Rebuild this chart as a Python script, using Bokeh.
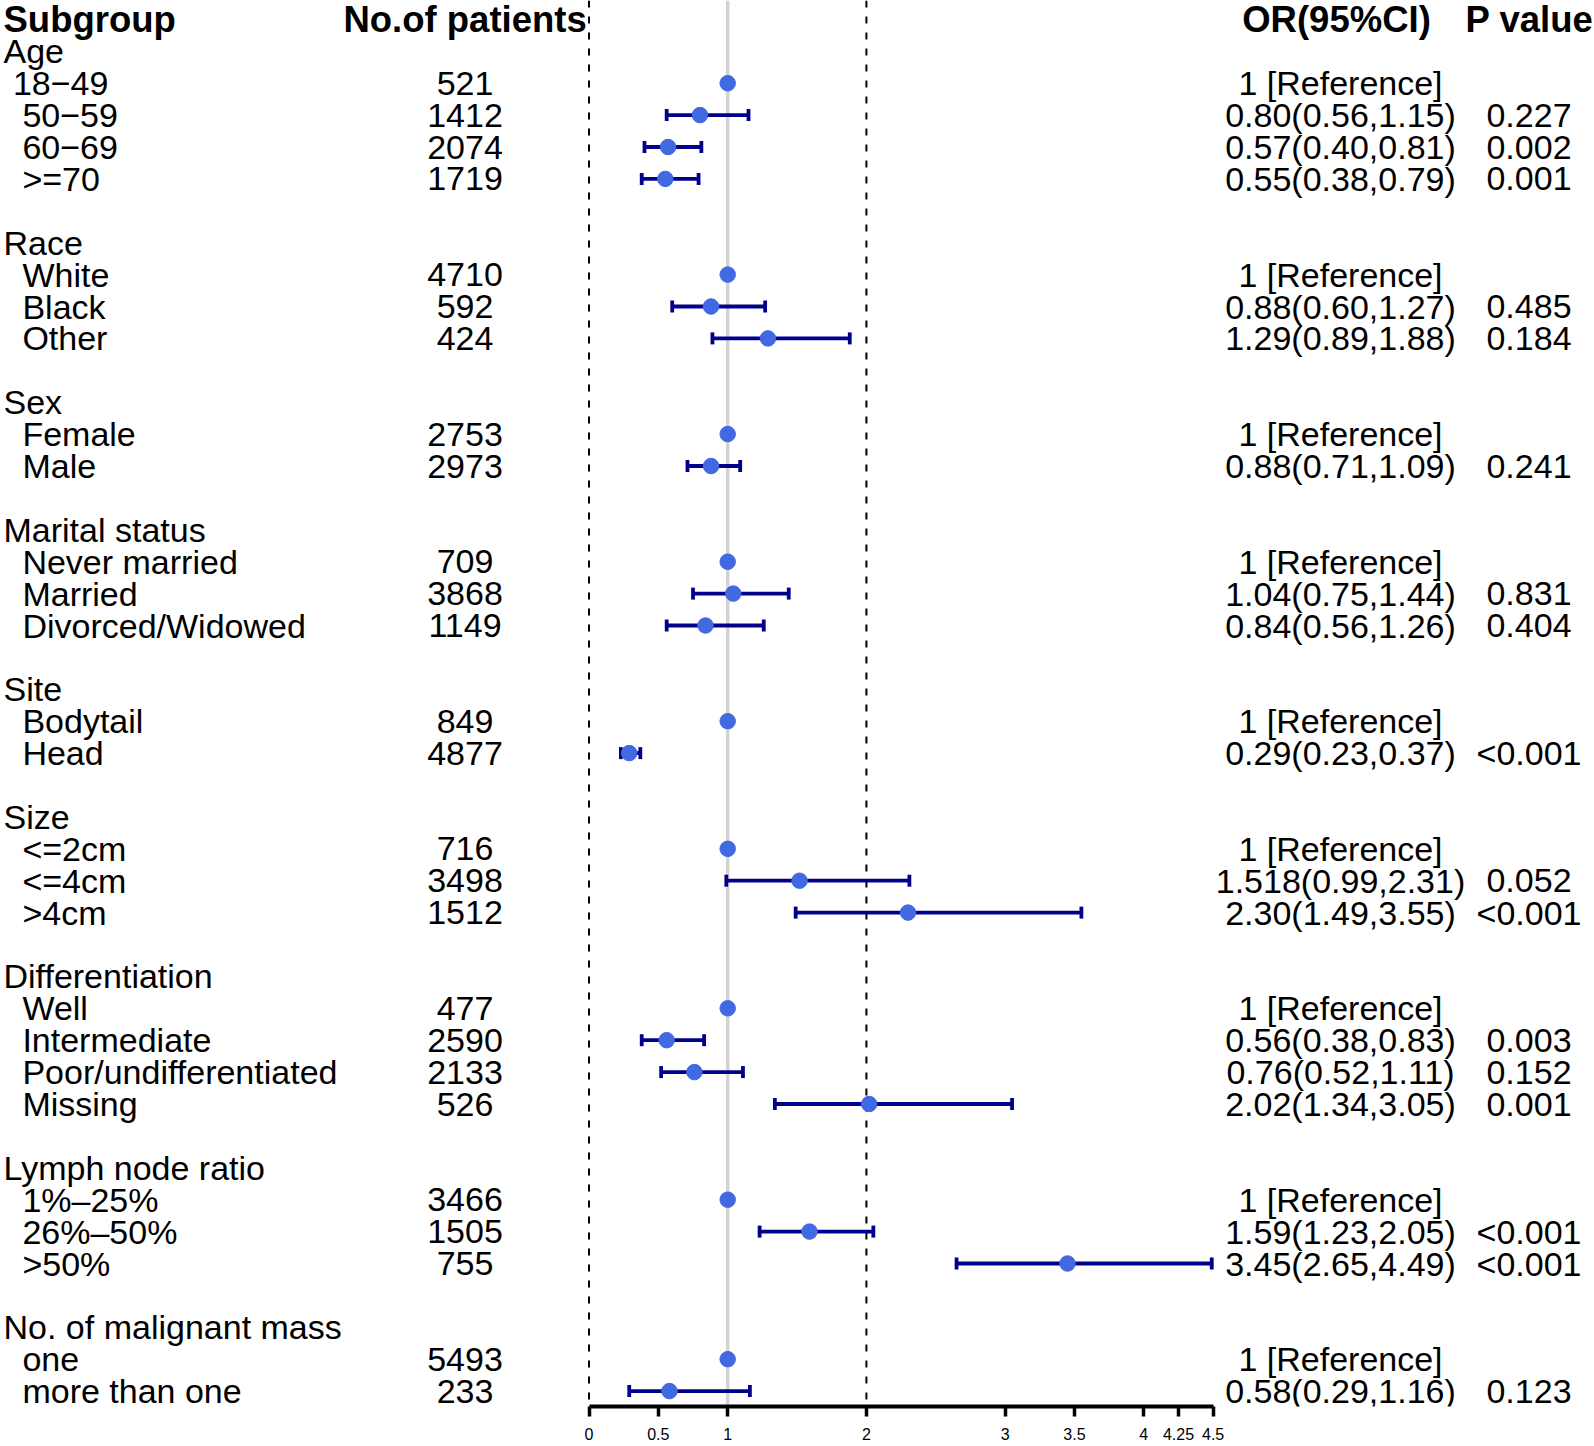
from bokeh.plotting import figure
from bokeh.models import (Range1d, LinearAxis, FixedTicker, NumeralTickFormatter,
                          Span, Whisker, TeeHead, ColumnDataSource)
from bokeh.core.properties import value
from bokeh.embed import file_html
from bokeh.resources import INLINE

# ---------------- data ----------------
groups = ["Age", "Race", "Sex", "Marital status", "Site", "Size",
          "Differentiation", "Lymph node ratio", "No. of malignant mass"]

# leading spaces = indentation used in the original table
items = [
    [" 18−49", "  50−59", "  60−69", "  >=70"],
    ["  White", "  Black", "  Other"],
    ["  Female", "  Male"],
    ["  Never married", "  Married", "  Divorced/Widowed"],
    ["  Bodytail", "  Head"],
    ["  <=2cm", "  <=4cm", "  >4cm"],
    ["  Well", "  Intermediate", "  Poor/undifferentiated", "  Missing"],
    ["  1%–25%", "  26%–50%", "  >50%"],
    ["  one", "  more than one"],
]

n_patients = [
    [521, 1412, 2074, 1719],
    [4710, 592, 424],
    [2753, 2973],
    [709, 3868, 1149],
    [849, 4877],
    [716, 3498, 1512],
    [477, 2590, 2133, 526],
    [3466, 1505, 755],
    [5493, 233],
]

or_est = [
    [1, 0.80, 0.57, 0.55],
    [1, 0.88, 1.29],
    [1, 0.88],
    [1, 1.04, 0.84],
    [1, 0.29],
    [1, 1.518, 2.30],
    [1, 0.56, 0.76, 2.02],
    [1, 1.59, 3.45],
    [1, 0.58],
]
or_lo = [
    [None, 0.56, 0.40, 0.38],
    [None, 0.60, 0.89],
    [None, 0.71],
    [None, 0.75, 0.56],
    [None, 0.23],
    [None, 0.99, 1.49],
    [None, 0.38, 0.52, 1.34],
    [None, 1.23, 2.65],
    [None, 0.29],
]
or_hi = [
    [None, 1.15, 0.81, 0.79],
    [None, 1.27, 1.88],
    [None, 1.09],
    [None, 1.44, 1.26],
    [None, 0.37],
    [None, 2.31, 3.55],
    [None, 0.83, 1.11, 3.05],
    [None, 2.05, 4.49],
    [None, 1.16],
]
or_text = [
    ["1 [Reference]", "0.80(0.56,1.15)", "0.57(0.40,0.81)", "0.55(0.38,0.79)"],
    ["1 [Reference]", "0.88(0.60,1.27)", "1.29(0.89,1.88)"],
    ["1 [Reference]", "0.88(0.71,1.09)"],
    ["1 [Reference]", "1.04(0.75,1.44)", "0.84(0.56,1.26)"],
    ["1 [Reference]", "0.29(0.23,0.37)"],
    ["1 [Reference]", "1.518(0.99,2.31)", "2.30(1.49,3.55)"],
    ["1 [Reference]", "0.56(0.38,0.83)", "0.76(0.52,1.11)", "2.02(1.34,3.05)"],
    ["1 [Reference]", "1.59(1.23,2.05)", "3.45(2.65,4.49)"],
    ["1 [Reference]", "0.58(0.29,1.16)"],
]
p_text = [
    ["", "0.227", "0.002", "0.001"],
    ["", "0.485", "0.184"],
    ["", "0.241"],
    ["", "0.831", "0.404"],
    ["", "<0.001"],
    ["", "0.052", "<0.001"],
    ["", "0.003", "0.152", "0.001"],
    ["", "<0.001", "<0.001"],
    ["", "0.123"],
]
headers = ["Subgroup", "No.of patients", "OR(95%CI)", "P value"]
ticks = [0, 0.5, 1, 2, 3, 3.5, 4, 4.25, 4.5]
null_value = 1
dashed_refs = [0, 2]

# ---------------- layout helpers (reference pixel -> data) ----------------
X0_PX, UNIT_PX = 588.5, 138.7        # x=0 position and px per unit
ROW0_PX, ROW_PX = 18.9, 31.9         # header row position and row spacing
AXIS_PX = 1406                       # y of the axis line
W_PX = 1594


def xo(px):
    return (px - X0_PX) / UNIT_PX


def row_of(px):
    return (px - ROW0_PX) / ROW_PX


FONT = value("Liberation Sans")
FS = "34px"
FS_B = "36.5px"
SPACE_PX = 9.45

# build rows
lab_x, lab_y, lab_t = [], [], []
n_y, n_t = [], []
ort_y, ort_t, p_y, p_t = [], [], [], []
pt_x, pt_y = [], []
ci_y, ci_lo, ci_hi = [], [], []

r = 1
for g, its, ns, es, los, his, ots, pts in zip(groups, items, n_patients, or_est,
                                              or_lo, or_hi, or_text, p_text):
    lab_x.append(xo(3)); lab_y.append(r); lab_t.append(g)
    r += 1
    for it, n, e, lo, hi, ot, pt in zip(its, ns, es, los, his, ots, pts):
        nsp = len(it) - len(it.lstrip(" "))
        lab_x.append(xo(3 + nsp * SPACE_PX)); lab_y.append(r); lab_t.append(it.strip())
        n_y.append(r); n_t.append(str(n))
        ort_y.append(r); ort_t.append(ot)
        if pt:
            p_y.append(r); p_t.append(pt)
        pt_x.append(e); pt_y.append(r)
        if lo is not None:
            ci_y.append(r); ci_lo.append(lo); ci_hi.append(hi)
        r += 1
    r += 1  # blank row

p = figure(frame_width=W_PX, frame_height=AXIS_PX,
           x_range=Range1d(xo(0), xo(W_PX)),
           y_range=Range1d(row_of(AXIS_PX), row_of(0)),
           x_axis_type=None, y_axis_type=None,
           output_backend="svg", toolbar_location=None, min_border=0)
p.outline_line_color = None
p.background_fill_color = "white"
p.border_fill_color = "white"

# reference lines
p.add_layout(Span(location=null_value, dimension="height", line_color="#D3D3D3",
                  line_width=3.5, level="underlay"))
for d in dashed_refs:
    p.add_layout(Span(location=d, dimension="height", line_color="black",
                      line_width=2, line_dash="7 9", level="underlay"))

# confidence intervals
ci_src = ColumnDataSource(dict(y=ci_y, lo=ci_lo, hi=ci_hi))
bar_col = "#00008B"
w = Whisker(source=ci_src, base="y", lower="lo", upper="hi", dimension="width",
            line_color=bar_col, line_width=3.8, level="underlay",
            lower_head=TeeHead(size=12, line_color=bar_col, line_width=3.8),
            upper_head=TeeHead(size=12, line_color=bar_col, line_width=3.8))
p.add_layout(w)

# points
p.scatter(x=pt_x, y=pt_y, size=15.5, marker="circle", fill_color="#4169E1",
          line_color="#4169E1")

# texts
p.text(x=lab_x, y=lab_y, text=lab_t, text_font=FONT, text_font_size=FS,
       text_align="left", text_baseline="middle", text_color="black")
p.text(x=[xo(464.5)] * len(n_t), y=n_y, text=n_t, text_font=FONT, text_font_size=FS,
       text_align="center", text_baseline="middle", text_color="black")
p.text(x=[xo(1340)] * len(ort_t), y=ort_y, text=ort_t, text_font=FONT, text_font_size=FS,
       text_align="center", text_baseline="middle", text_color="black")
p.text(x=[xo(1528.5)] * len(p_t), y=p_y, text=p_t, text_font=FONT, text_font_size=FS,
       text_align="center", text_baseline="middle", text_color="black")

# header
p.text(x=[xo(3)], y=[0], text=[headers[0]], text_font=FONT, text_font_size=FS_B,
       text_font_style="bold", text_align="left", text_baseline="middle")
p.text(x=[xo(464.6), xo(1336), xo(1529)], y=[0, 0, 0], text=headers[1:],
       text_font=FONT, text_font_size=FS_B, text_font_style="bold",
       text_align="center", text_baseline="middle")

# axis
ax = LinearAxis(bounds=(ticks[0], ticks[-1]), ticker=FixedTicker(ticks=ticks),
                formatter=NumeralTickFormatter(format="0.[00]"))
ax.axis_line_width = 4
ax.axis_line_color = "black"
ax.major_tick_line_width = 3.5
ax.major_tick_line_color = "black"
ax.major_tick_out = 10
ax.major_tick_in = 0
ax.minor_tick_out = 0
ax.minor_tick_in = 0
ax.minor_tick_line_color = None
ax.major_label_text_font = "Liberation Sans"
ax.major_label_text_font_size = "16px"
ax.major_label_text_color = "black"
ax.major_label_standoff = 11
p.add_layout(ax, "below")

open("out.html", "w").write(file_html(p, INLINE))
